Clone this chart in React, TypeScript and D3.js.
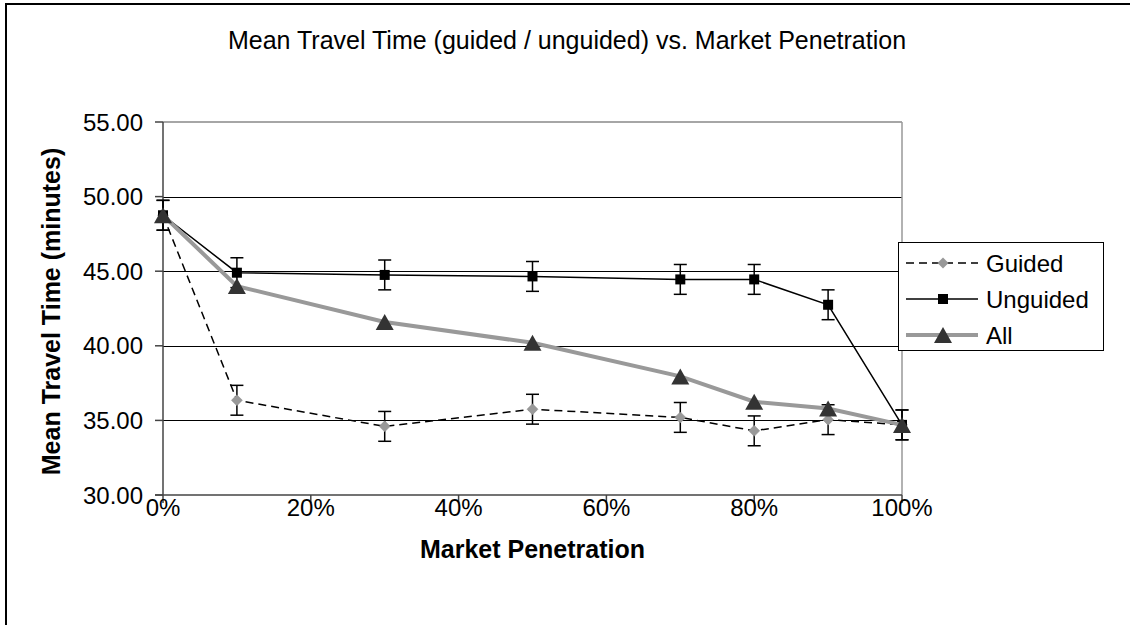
import React from 'react';
import * as d3 from 'd3';

const penetration = [0, 10, 30, 50, 70, 80, 90, 100];
const guided = [48.75, 36.35, 34.6, 35.75, 35.2, 34.3, 35.05, 34.7];
const guidedErr = [1, 1, 1, 1, 1, 1, 1, 1];
const unguided = [48.75, 44.9, 44.75, 44.65, 44.45, 44.45, 42.75, 34.7];
const unguidedErr = [1, 1, 1, 1, 1, 1, 1, 1];
const allTrips = [48.75, 44.0, 41.6, 40.2, 37.95, 36.25, 35.8, 34.7];
const yTicks = [30, 35, 40, 45, 50, 55];
const xTicks = [0, 20, 40, 60, 80, 100];
const seriesNames = ['Guided', 'Unguided', 'All'];

const FONT = "'Liberation Sans', Arial, Helvetica, sans-serif";
const W = 1130;
const H = 625;
const left = 163;
const right = 902;
const top = 122;
const bottom = 495;

export default function App() {
  const x = d3.scaleLinear().domain([0, 100]).range([left, right]);
  const y = d3.scaleLinear().domain([30, 55]).range([bottom, top]);
  const line = d3
    .line<number>()
    .x((_, i) => x(penetration[i]))
    .y((d) => y(d));

  const diamond = (cx: number, cy: number, r = 5.5) =>
    `M${cx},${cy - r}L${cx + r},${cy}L${cx},${cy + r}L${cx - r},${cy}Z`;
  const triangle = (cx: number, cy: number, w = 18, h = 16) =>
    `M${cx},${cy - h / 2}L${cx + w / 2},${cy + h / 2}L${cx - w / 2},${cy + h / 2}Z`;

  const errBars = (vals: number[], errs: number[], key: string) =>
    vals.map((v, i) => {
      const cx = x(penetration[i]);
      const y1 = y(v + errs[i]);
      const y2 = y(v - errs[i]);
      return (
        <g key={key + i} stroke="#000" strokeWidth={1.5}>
          <line x1={cx} x2={cx} y1={y1} y2={y2} />
          <line x1={cx - 6.5} x2={cx + 6.5} y1={y1} y2={y1} />
          <line x1={cx - 6.5} x2={cx + 6.5} y1={y2} y2={y2} />
        </g>
      );
    });

  const legendY = [263, 299, 335];

  return (
    <svg
      width={W}
      height={H}
      style={{ position: 'absolute', left: 0, top: 0, background: '#fff' }}
      fontFamily={FONT}
    >
      <rect x={0} y={0} width={W} height={H} fill="#fff" />
      {/* outer chart border */}
      <rect x={6} y={4} width={W + 50} height={H + 50} fill="none" stroke="#000" strokeWidth={2} />

      {/* title */}
      <text x={567} y={49} textAnchor="middle" fontSize={25} fill="#000">
        Mean Travel Time (guided / unguided) vs. Market Penetration
      </text>

      {/* gridlines */}
      {yTicks
        .filter((t) => t !== 30 && t !== 55)
        .map((t) => (
          <line key={'g' + t} x1={left} x2={right} y1={Math.round(y(t)) + 0.5} y2={Math.round(y(t)) + 0.5} stroke="#000" strokeWidth={1} />
        ))}
      {/* plot border top/right */}
      <line x1={left} x2={right} y1={y(55)} y2={y(55)} stroke="#888" strokeWidth={1.5} />
      <line x1={right} x2={right} y1={top} y2={bottom} stroke="#999" strokeWidth={1.5} />

      {/* axes */}
      <line x1={left} x2={left} y1={top} y2={bottom} stroke="#444" strokeWidth={1.5} />
      <line x1={left - 8} x2={right} y1={bottom} y2={bottom} stroke="#444" strokeWidth={1.5} />
      {yTicks.map((t) => (
        <g key={'yt' + t}>
          <line x1={left - 8} x2={left} y1={y(t)} y2={y(t)} stroke="#444" strokeWidth={1.5} />
          <text x={143} y={y(t)} dy="0.36em" textAnchor="end" fontSize={24} fill="#000">
            {t.toFixed(2)}
          </text>
        </g>
      ))}
      {xTicks.map((t) => (
        <g key={'xt' + t}>
          <line x1={x(t)} x2={x(t)} y1={bottom} y2={bottom + 8} stroke="#444" strokeWidth={1.5} />
          <text x={x(t)} y={516} textAnchor="middle" fontSize={24} fill="#000">
            {t + '%'}
          </text>
        </g>
      ))}

      {/* axis titles */}
      <text x={(left + right) / 2} y={558} textAnchor="middle" fontSize={25} fontWeight="bold" fill="#000">
        Market Penetration
      </text>
      <text
        transform={`translate(60,${(top + bottom) / 2 + 3}) rotate(-90)`}
        textAnchor="middle"
        fontSize={25}
        fontWeight="bold"
        fill="#000"
      >
        Mean Travel Time (minutes)
      </text>

      {/* Guided */}
      <path d={line(guided) || ''} fill="none" stroke="#000" strokeWidth={1.5} strokeDasharray="8,5" />
      {errBars(guided, guidedErr, 'ge')}
      {guided.map((v, i) => (
        <path key={'gm' + i} d={diamond(x(penetration[i]), y(v))} fill="#999" stroke="#8a8a8a" strokeWidth={0.5} />
      ))}

      {/* Unguided */}
      <path d={line(unguided) || ''} fill="none" stroke="#000" strokeWidth={1.5} />
      {errBars(unguided, unguidedErr, 'ue')}
      {unguided.map((v, i) => (
        <rect key={'um' + i} x={x(penetration[i]) - 5} y={y(v) - 5} width={10} height={10} fill="#000" />
      ))}

      {/* All */}
      <path d={line(allTrips) || ''} fill="none" stroke="#999" strokeWidth={4} />
      {allTrips.map((v, i) => (
        <path key={'am' + i} d={triangle(x(penetration[i]), y(v))} fill="#333" />
      ))}

      {/* legend */}
      <rect x={898.5} y={242.5} width={205} height={108} fill="#fff" stroke="#000" strokeWidth={1} />
      <line x1={906} x2={978} y1={legendY[0]} y2={legendY[0]} stroke="#000" strokeWidth={1.5} strokeDasharray="8,5" />
      <path d={diamond(943, legendY[0])} fill="#999" />
      <line x1={906} x2={978} y1={legendY[1]} y2={legendY[1]} stroke="#000" strokeWidth={1.5} />
      <rect x={938} y={legendY[1] - 5} width={10} height={10} fill="#000" />
      <line x1={906} x2={978} y1={legendY[2]} y2={legendY[2]} stroke="#999" strokeWidth={4} />
      <path d={triangle(943, legendY[2])} fill="#333" />
      {seriesNames.map((n, i) => (
        <text key={n} x={986} y={legendY[i]} dy="0.36em" fontSize={24} fill="#000">
          {n}
        </text>
      ))}
    </svg>
  );
}
